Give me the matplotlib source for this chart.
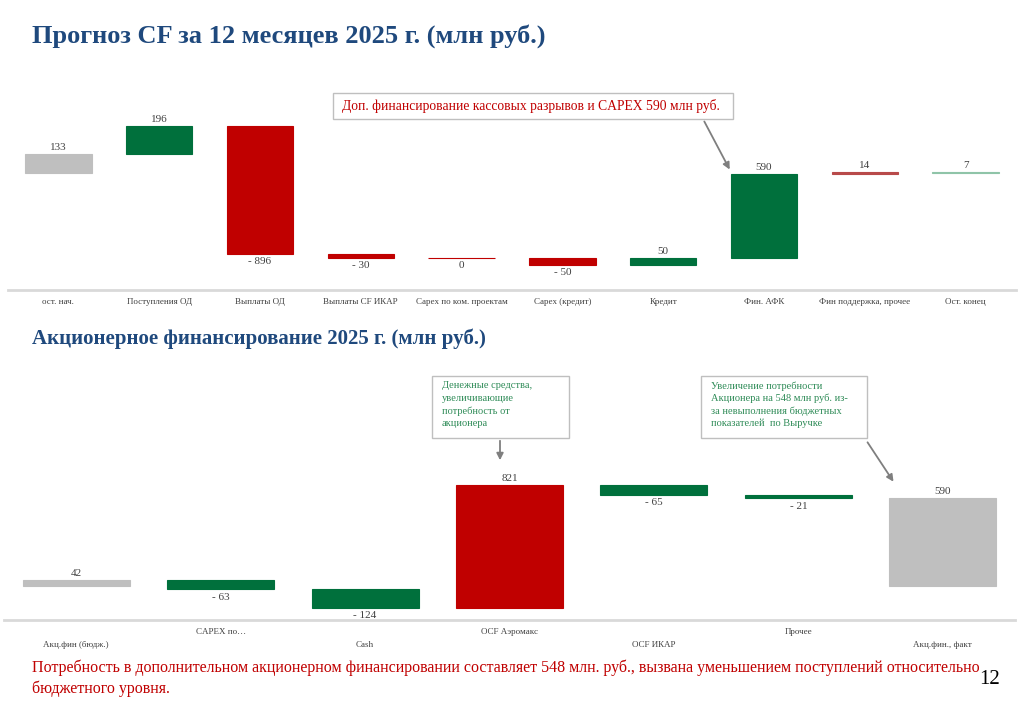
import matplotlib.pyplot as plt
from matplotlib.patches import Rectangle, FancyArrowPatch

plt.rcParams['font.family'] = ['Liberation Serif', 'DejaVu Serif']

# --- data ---
cf_labels = ['ост. нач.', 'Поступления ОД', 'Выплаты ОД', 'Выплаты CF ИКАР',
             'Capex по ком. проектам', 'Capex (кредит)', 'Кредит', 'Фин. АФК',
             'Фин поддержка, прочее', 'Ост. конец']
cf_values = [133, 196, -896, -30, 0, -50, 50, 590, 14, 7]
cf_total = [True, False, False, False, False, False, False, False, False, True]

eq_labels = ['Акц.фин (бюдж.)', 'CAPEX по…', 'Cash', 'OCF Аэромакс',
             'OCF ИКАР', 'Прочее', 'Акц.фин., факт']
eq_values = [42, -63, -124, 821, -65, -21, 590]
eq_total = [True, False, False, False, False, False, True]

GRAY = '#BFBFBF'
GREEN = '#00703C'
RED = '#C00000'
cf_colors = [GRAY, GREEN, RED, RED, RED, RED, GREEN, GREEN, '#B84A4A', '#8FC4A8']
eq_colors = [GRAY, GREEN, GREEN, RED, GREEN, GREEN, GRAY]

W, H = 1024, 708


def fx(x):
    return x / W


def fy(y):
    return 1 - y / H


def waterfall(ax, values, totals, colors, width):
    run = 0
    for i, (v, t, c) in enumerate(zip(values, totals, colors)):
        if t:
            bottom, run = 0, v
        else:
            bottom = run
            run += v
        ax.bar(i, v, bottom=bottom, width=width, color=c, edgecolor=c, linewidth=0.8)
        if t or v > 0:
            ax.annotate(str(v), (i, bottom + v), xytext=(0, 1.5), textcoords='offset points',
                        ha='center', va='bottom', fontsize=8, color='#404040')
        else:
            txt = '0' if v == 0 else f'- {abs(v)}'
            ax.annotate(txt, (i, bottom + v), xytext=(0, -2.5), textcoords='offset points',
                        ha='center', va='top', fontsize=8, color='#404040')


def style_axis(ax, n, ymin, ymax):
    ax.set_xlim(-0.5, n - 0.5)
    ax.set_ylim(ymin, ymax)
    for s in ['top', 'left', 'right']:
        ax.spines[s].set_visible(False)
    ax.spines['bottom'].set_color('#D9D9D9')
    ax.spines['bottom'].set_linewidth(2)
    ax.set_yticks([])
    ax.tick_params(axis='x', length=0)


fig = plt.figure(figsize=(W / 100, H / 100), dpi=100)

# top chart: pixel rows 100..290, x 8..1016
ax1 = fig.add_axes([fx(8), fy(290), fx(1008), 190 / H])
waterfall(ax1, cf_values, cf_total, cf_colors, 0.66)
style_axis(ax1, len(cf_values), -824, 514)
ax1.set_xticks(range(len(cf_labels)))
ax1.set_xticklabels(cf_labels, fontsize=6.5, color='#404040')
ax1.tick_params(axis='x', pad=6)

# bottom chart: pixel rows 370..620, x 4..1015
ax2 = fig.add_axes([fx(4), fy(620), fx(1011), 250 / H])
waterfall(ax2, eq_values, eq_total, eq_colors, 0.74)
style_axis(ax2, len(eq_values), -228, 1450)
ax2.set_xticks([])
for i, lab in enumerate(eq_labels):
    off = -18 if i % 2 == 0 else -8.5
    ax2.annotate(lab, (i, 0), xycoords=('data', 'axes fraction'), xytext=(0, off),
                 textcoords='offset points', ha='center', va='center',
                 fontsize=6.5, color='#404040')

# titles
fig.text(fx(32), fy(36), 'Прогноз CF за 12 месяцев 2025 г. (млн руб.)', fontsize=19,
         fontweight='bold', color='#1F497D', va='center')
fig.text(fx(32), fy(339), 'Акционерное финансирование 2025 г. (млн руб.)', fontsize=15,
         fontweight='bold', color='#1F497D', va='center')


def box(x0, y0, x1, y1, lines, color, size, tx, ty, lh):
    fig.patches.append(Rectangle((fx(x0), fy(y1)), fx(x1 - x0), (y1 - y0) / H,
                                 transform=fig.transFigure, facecolor='white',
                                 edgecolor='#BFBFBF', linewidth=1))
    for k, ln in enumerate(lines):
        fig.text(fx(tx), fy(ty + k * lh), ln, fontsize=size, color=color, va='center')


def arrow(x0, y0, x1, y1):
    fig.add_artist(FancyArrowPatch((fx(x0), fy(y0)), (fx(x1), fy(y1)),
                                   transform=fig.transFigure, arrowstyle='-|>',
                                   mutation_scale=10, color='#7F7F7F', linewidth=1.3))


box(333, 93, 733, 119, ['Доп. финансирование кассовых разрывов и CAPEX 590 млн руб.'],
    RED, 9.8, 342, 106, 0)
arrow(703, 119, 731, 172)

box(432, 376, 569, 438, ['Денежные средства,', 'увеличивающие', 'потребность от', 'акционера'],
    '#2E8B57', 7.5, 442, 386, 12.5)
arrow(500, 438, 500, 463)

box(701, 376, 867, 438, ['Увеличение потребности', 'Акционера на 548 млн руб. из-',
                         'за невыполнения бюджетных', 'показателей  по Выручке'],
    '#2E8B57', 7.5, 711, 386, 12.5)
arrow(866, 440, 895, 484)

fig.text(fx(32), fy(668), 'Потребность в дополнительном акционерном финансировании составляет '
         '548 млн. руб., вызвана уменьшением поступлений относительно',
         fontsize=11.5, color=RED, va='center')
fig.text(fx(32), fy(689), 'бюджетного уровня.', fontsize=11.5, color=RED, va='center')
fig.text(fx(1000), fy(680), '12', fontsize=15, color='black', va='center', ha='right')

fig.savefig('out.png', dpi=100)
